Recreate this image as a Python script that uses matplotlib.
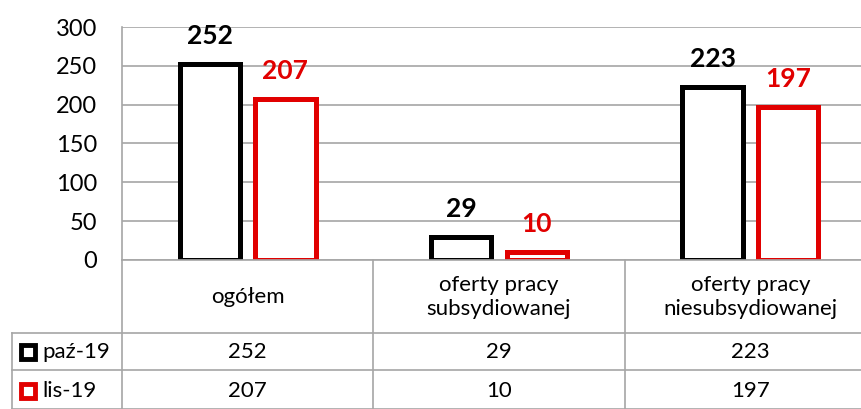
import matplotlib
matplotlib.use('Agg')
import matplotlib.pyplot as plt
from matplotlib.lines import Line2D
from matplotlib.transforms import blended_transform_factory
import numpy as np

# --------- Data ---------
categories = ['ogółem', 'oferty pracy\nsubsydiowanej', 'oferty pracy\nniesubsydiowanej']
series_names = ['paź-19', 'lis-19']
paz_19 = [252, 29, 223]
lis_19 = [207, 10, 197]
y_ticks = [0, 50, 100, 150, 200, 250, 300]
# ------------------------

plt.rcParams['font.family'] = ['Lato', 'DejaVu Sans']
FS = 16
BLACK = '#000000'
RED = '#E10000'
GRID = '#A6A6A6'

W, H = 861, 409


def fx(x):
    return x / W


def fy(y):
    return 1 - y / H


fig = plt.figure(figsize=(W / 100, H / 100), dpi=100)
ax = fig.add_axes([fx(122), fy(260), (876 - 122) / W, (260 - 27) / H])

x = np.arange(len(categories))
off, bw = 0.15, 0.24
ax.bar(x - off, paz_19, bw, facecolor='white', edgecolor=BLACK, linewidth=3.6, zorder=3)
ax.bar(x + off, lis_19, bw, facecolor='white', edgecolor=RED, linewidth=3.6, zorder=3)

# etykiety nad słupkami
for xi, v in zip(x, paz_19):
    ax.annotate(str(v), (xi - off, v), xytext=(0, 14.5), textcoords='offset points',
                ha='center', va='baseline', fontsize=19, fontweight='bold', color=BLACK)
for xi, v in zip(x, lis_19):
    ax.annotate(str(v), (xi + off, v), xytext=(0, 14.5), textcoords='offset points',
                ha='center', va='baseline', fontsize=19, fontweight='bold', color=RED)

ax.set_xlim(-0.5, len(categories) - 0.5)
ax.set_ylim(0, 300)
ax.set_yticks(y_ticks)
ax.set_xticks([])
ax.tick_params(axis='y', length=0, pad=18, labelsize=17)
ax.yaxis.grid(True, color=GRID, linewidth=1.2, zorder=0)
ax.set_axisbelow(True)
for s in ['top', 'right', 'bottom']:
    ax.spines[s].set_visible(False)
ax.spines['left'].set_color(GRID)
ax.spines['left'].set_linewidth(1.2)

# --------- tabela danych ---------
def fline(xs, ys, transform=fig.transFigure):
    fig.add_artist(Line2D(xs, ys, color=GRID, linewidth=1.2, transform=transform))

bt = blended_transform_factory(ax.transData, fig.transFigure)

# linie poziome
fline([fx(122), 1.05], [fy(260), fy(260)])
fline([fx(12), 1.05], [fy(333), fy(333)])
fline([fx(12), 1.05], [fy(370), fy(370)])
fline([fx(12), 1.05], [fy(409), fy(409)])
# linie pionowe
fline([fx(12), fx(12)], [fy(333), fy(420)])
fline([fx(122), fx(122)], [fy(260), fy(420)])
for i in range(1, len(categories) + 1):
    fline([i - 0.5, i - 0.5], [fy(260), fy(420)], transform=bt)

# nazwy kategorii
for xi, c in zip(x, categories):
    fig.text(xi, fy(297), c, transform=bt, ha='center', va='center',
             fontsize=FS, linespacing=1.3)

# wiersze z wartościami
rows = [(series_names[0], paz_19, BLACK, 352), (series_names[1], lis_19, RED, 391)]
for name, vals, col, yc in rows:
    fig.add_artist(Line2D([fx(27.5)], [fy(yc)], marker='s', markersize=9.5,
                          markerfacecolor='white', markeredgecolor=col,
                          markeredgewidth=3.5, transform=fig.transFigure))
    fig.text(fx(42), fy(yc), name, ha='left', va='center', fontsize=FS)
    for xi, v in zip(x, vals):
        fig.text(xi, fy(yc), str(v), transform=bt, ha='center', va='center', fontsize=FS)

fig.savefig('out.png', dpi=100)
